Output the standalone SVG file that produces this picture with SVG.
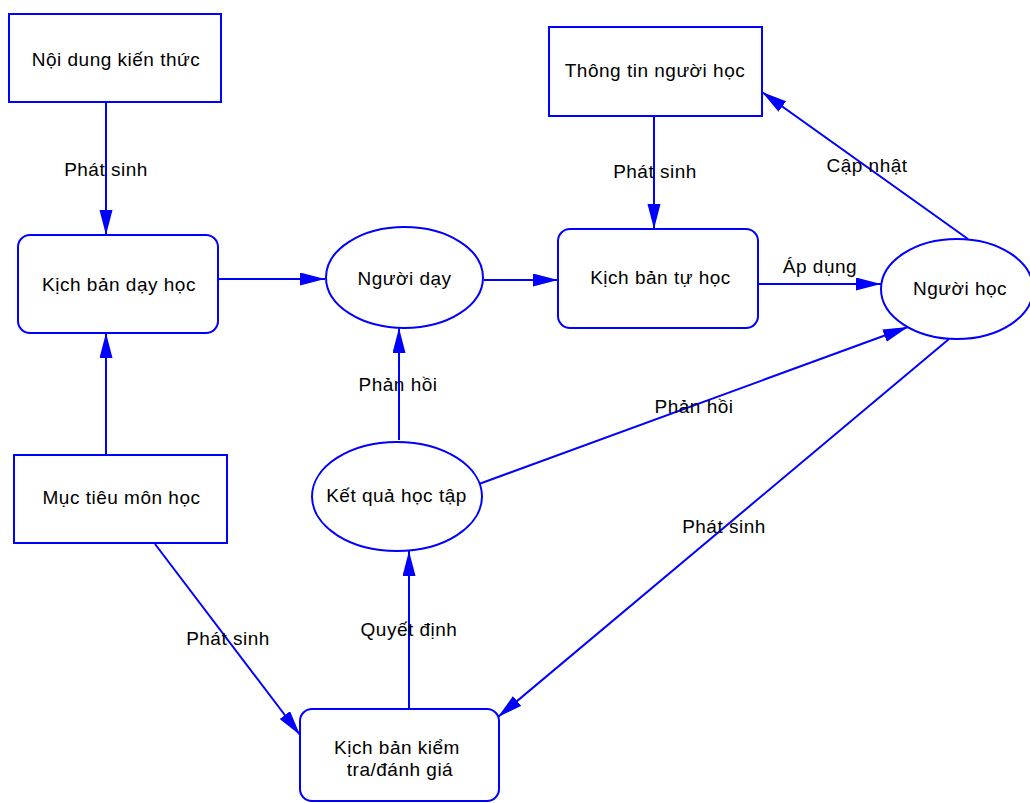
<svg xmlns="http://www.w3.org/2000/svg" width="1030" height="803" viewBox="0 0 1030 803">
<style>
.n{fill:#fff;stroke:#0000ff;stroke-width:2}
.e{stroke:#0000ff;stroke-width:2;fill:none;marker-end:url(#ah)}
text{font-family:"Liberation Sans",Arial,sans-serif;font-size:19px;letter-spacing:0.5px;fill:#000;text-anchor:middle}
</style>
<defs>
<marker id="ah" markerUnits="userSpaceOnUse" markerWidth="26" markerHeight="14" viewBox="0 0 26 14" refX="25" refY="6.5" orient="auto">
<path d="M0,0 L25,6.5 L0,13 z" fill="#0000ff"/>
</marker>
</defs>
<rect width="1030" height="803" fill="#fff"/>
<g id="connectors">
<line class="e" x1="106" y1="102" x2="106" y2="235"/>
<line class="e" x1="218" y1="279" x2="325" y2="279"/>
<line class="e" x1="106" y1="455" x2="106" y2="333"/>
<line class="e" x1="484" y1="280" x2="558" y2="280"/>
<line class="e" x1="654" y1="116" x2="654" y2="229"/>
<line class="e" x1="758" y1="284" x2="881" y2="284"/>
<line class="e" x1="968" y1="239" x2="762" y2="92"/>
<line class="e" x1="399" y1="440" x2="399" y2="328"/>
<line class="e" x1="479" y1="484" x2="908" y2="327"/>
<line class="e" x1="949" y1="339" x2="498" y2="717"/>
<line class="e" x1="155" y1="544" x2="300" y2="735"/>
<line class="e" x1="409" y1="709" x2="409" y2="551"/>
<text x="106" y="176">Phát sinh</text>
<text x="655" y="178">Phát sinh</text>
<text x="820" y="273">Áp dụng</text>
<text x="867" y="172">Cập nhật</text>
<text x="398" y="391">Phản hồi</text>
<text x="694" y="413">Phản hồi</text>
<text x="724" y="533">Phát sinh</text>
<text x="228" y="645">Phát sinh</text>
<text x="409" y="636">Quyết định</text>
</g>
<g id="noi-dung">
<rect class="n" x="9" y="14" width="212" height="88"/>
<text x="116" y="66">Nội dung kiến thức</text>
</g>
<g id="kb-day-hoc">
<rect class="n" x="18" y="235" width="200" height="98" rx="12"/>
<text x="119" y="291">Kịch bản dạy học</text>
</g>
<g id="nguoi-day">
<ellipse class="n" cx="404.5" cy="277.5" rx="78.5" ry="50.5"/>
<text x="404.5" y="285">Người dạy</text>
</g>
<g id="kb-tu-hoc">
<rect class="n" x="558" y="229" width="200" height="99" rx="12"/>
<text x="660.5" y="284">Kịch bản tự học</text>
</g>
<g id="thong-tin">
<rect class="n" x="549" y="27" width="213" height="89"/>
<text x="655" y="77">Thông tin người học</text>
</g>
<g id="nguoi-hoc">
<ellipse class="n" cx="957" cy="289" rx="76" ry="50"/>
<text x="960" y="295">Người học</text>
</g>
<g id="muc-tieu">
<rect class="n" x="14" y="455" width="213" height="88"/>
<text x="121.5" y="504">Mục tiêu môn học</text>
</g>
<g id="ket-qua">
<ellipse class="n" cx="397" cy="496.5" rx="85" ry="54.5"/>
<text x="396.5" y="502">Kết quả học tập</text>
</g>
<g id="kb-kiem-tra">
<rect class="n" x="300" y="709" width="199" height="92" rx="12"/>
<text x="397" y="754">Kịch bản kiểm</text>
<text x="400" y="776">tra/đánh giá</text>
</g>
</svg>
